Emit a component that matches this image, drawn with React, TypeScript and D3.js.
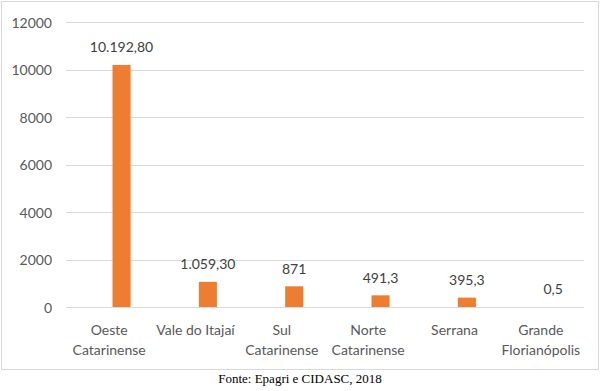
import * as d3 from 'd3';
import { useEffect, useRef } from 'react';

const categories = [
  ['Oeste', 'Catarinense'],
  ['Vale do Itajaí'],
  ['Sul', 'Catarinense'],
  ['Norte', 'Catarinense'],
  ['Serrana'],
  ['Grande', 'Florianópolis'],
];
const values = [10192.8, 1059.3, 871, 491.3, 395.3, 0.5];
const valueLabels = ['10.192,80', '1.059,30', '871', '491,3', '395,3', '0,5'];
const yTicks = [0, 2000, 4000, 6000, 8000, 10000, 12000];
const source = 'Fonte: Epagri e CIDASC, 2018';

const WIDTH = 600;
const HEIGHT = 391;
const FONT = "Lato, 'Open Sans', sans-serif";
const TEXT = '#595959';
const GRID = '#d9d9d9';
const BAR = '#ed7d31';

export default function App() {
  const svgRef = useRef<SVGSVGElement>(null);

  useEffect(() => {
    document.body.style.margin = '0';
    if (!svgRef.current) return;
    const svg = d3.select(svgRef.current);
    svg.selectAll('*').remove();

    const plot = { left: 66, right: 584, top: 22, bottom: 307 };
    const keys = categories.map((c) => c.join(' '));

    const x = d3.scaleBand<string>().domain(keys).range([plot.left, plot.right]).padding(0);
    const y = d3.scaleLinear().domain([0, 12000]).range([plot.bottom, plot.top]);
    // Excel clustered layout: the visible series sits right of the category centre
    const inner = d3
      .scaleBand<string>()
      .domain(['empty', 'area'])
      .range([0, x.bandwidth()])
      .paddingInner(0.27)
      .paddingOuter(0.88);

    // chart frame
    svg
      .append('rect')
      .attr('x', 1.5)
      .attr('y', 1.5)
      .attr('width', 597)
      .attr('height', 368)
      .attr('fill', 'white')
      .attr('stroke', GRID)
      .attr('stroke-width', 1);

    // grid
    svg
      .append('g')
      .selectAll('line')
      .data(yTicks)
      .enter()
      .append('line')
      .attr('x1', plot.left)
      .attr('x2', plot.right)
      .attr('y1', (d) => Math.round(y(d)) + 0.5)
      .attr('y2', (d) => Math.round(y(d)) + 0.5)
      .attr('stroke', GRID)
      .attr('stroke-width', 1);

    // y tick labels
    svg
      .append('g')
      .selectAll('text')
      .data(yTicks)
      .enter()
      .append('text')
      .attr('x', 52)
      .attr('y', (d) => y(d))
      .attr('text-anchor', 'end')
      .attr('dominant-baseline', 'central')
      .attr('fill', TEXT)
      .style('font-family', FONT)
      .style('font-size', '14px')
      .text((d) => String(d));

    const data = keys.map((k, i) => ({ key: k, value: values[i], label: valueLabels[i], lines: categories[i] }));

    // bars
    svg
      .append('g')
      .selectAll('rect')
      .data(data)
      .enter()
      .append('rect')
      .attr('x', (d) => (x(d.key) || 0) + (inner('area') || 0))
      .attr('width', inner.bandwidth())
      .attr('y', (d) => y(d.value))
      .attr('height', (d) => plot.bottom - y(d.value))
      .attr('fill', BAR);

    // value labels
    svg
      .append('g')
      .selectAll('text')
      .data(data)
      .enter()
      .append('text')
      .attr('x', (d) => (x(d.key) || 0) + (inner('area') || 0) + inner.bandwidth() / 2)
      .attr('y', (d) => y(d.value) - 18)
      .attr('text-anchor', 'middle')
      .attr('dominant-baseline', 'central')
      .attr('fill', '#404040')
      .style('font-family', FONT)
      .style('font-size', '14px')
      .text((d) => d.label);

    // category labels
    const cat = svg
      .append('g')
      .selectAll('text')
      .data(data)
      .enter()
      .append('text')
      .attr('x', (d) => (x(d.key) || 0) + x.bandwidth() / 2)
      .attr('y', 329)
      .attr('text-anchor', 'middle')
      .attr('dominant-baseline', 'central')
      .attr('fill', TEXT)
      .style('font-family', FONT)
      .style('font-size', '14px');
    cat
      .selectAll('tspan')
      .data((d) => d.lines)
      .enter()
      .append('tspan')
      .attr('x', function () {
        return (this.parentNode as SVGTextElement).getAttribute('x');
      })
      .attr('dy', (_, i) => (i === 0 ? 0 : 20))
      .text((d) => d);

    // source caption
    svg
      .append('text')
      .attr('x', WIDTH / 2)
      .attr('y', 378)
      .attr('text-anchor', 'middle')
      .attr('dominant-baseline', 'central')
      .attr('fill', '#000')
      .style('font-family', "'Liberation Serif', 'Times New Roman', serif")
      .style('font-size', '13px')
      .text(source);
  }, []);

  return (
    <svg
      ref={svgRef}
      width={WIDTH}
      height={HEIGHT}
      style={{ position: 'absolute', left: 0, top: 0, background: 'white' }}
    />
  );
}
